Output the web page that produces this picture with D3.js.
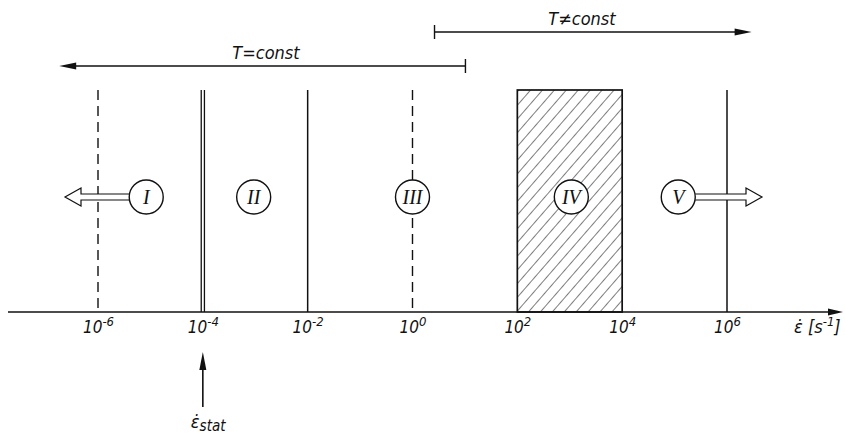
<html lang="en">
<head>
<meta charset="UTF-8">
<title>Strain rate ranges</title>
<script src="https://d3js.org/d3.v7.min.js"></script>
<style>
  body { margin: 0; background: #fff; }
  .lbl { font-family: "DejaVu Sans Condensed", "Liberation Sans Narrow", sans-serif; font-style: italic; fill: #111; }
  .roman { font-family: "Liberation Serif", "DejaVu Serif", serif; font-style: italic; fill: #111; }
</style>
</head>
<body>
<svg width="845" height="435"></svg>
<script>
// log10 of strain rate, s^-1
const tickExponents = [-6, -4, -2, 0, 2, 4, 6];
const dashedBounds = [-6, 0];
const solidBounds = [-2, 6];
const doubleBounds = [-4];
const hatchedBand = [2, 4];
const regionNames = ["I", "II", "III", "IV", "V"];
const regionCenters = [-5.08, -3.03, 0, 3.03, 5.07];
const tConstRange = [1.01, -6.74];     // from bar to arrow tip
const tVarRange = [0.42, 6.47];
const statRate = -4;

const svg = d3.select("svg");
const axisY = 312, lineTop = 90, circleY = 197, r = 17;

const x = d3.scaleLinear().domain([-6, 6]).range([98, 727]);

const defs = svg.append("defs");
defs.append("pattern")
    .attr("id", "hatch")
    .attr("patternUnits", "userSpaceOnUse")
    .attr("width", 9).attr("height", 9)
    .attr("patternTransform", "rotate(41)")
  .append("line")
    .attr("x1", 0).attr("y1", 0).attr("x2", 0).attr("y2", 9)
    .attr("stroke", "#111").attr("stroke-width", 1.1);

// hatched band IV
svg.append("rect")
    .attr("x", x(hatchedBand[0]))
    .attr("y", lineTop)
    .attr("width", x(hatchedBand[1]) - x(hatchedBand[0]))
    .attr("height", axisY - lineTop)
    .attr("fill", "url(#hatch)")
    .attr("stroke", "#111").attr("stroke-width", 1.7);

// boundaries
svg.selectAll(".dash").data(dashedBounds).join("line")
    .attr("x1", d => x(d)).attr("x2", d => x(d))
    .attr("y1", lineTop).attr("y2", axisY)
    .attr("stroke", "#111").attr("stroke-width", 1.4)
    .attr("stroke-dasharray", "10,6");
svg.selectAll(".solid").data(solidBounds).join("line")
    .attr("x1", d => x(d)).attr("x2", d => x(d))
    .attr("y1", lineTop).attr("y2", axisY)
    .attr("stroke", "#111").attr("stroke-width", 1.5);
doubleBounds.forEach(d => {
  [-1.6, 1.6].forEach(o => {
    svg.append("line")
        .attr("x1", x(d) + o).attr("x2", x(d) + o)
        .attr("y1", lineTop).attr("y2", axisY)
        .attr("stroke", "#111").attr("stroke-width", 1.3);
  });
});

// open arrows out of I and V
function openArrow(x0, x1) {
  const dir = Math.sign(x1 - x0), head = 16, hw = 9, sw = 3;
  const xb = x1 - dir * head;
  svg.append("path")
      .attr("d", `M${x0},${circleY - sw} L${xb},${circleY - sw} L${xb},${circleY - hw} L${x1},${circleY} L${xb},${circleY + hw} L${xb},${circleY + sw} L${x0},${circleY + sw}`)
      .attr("fill", "#fff").attr("stroke", "#111").attr("stroke-width", 1.2);
}
openArrow(x(regionCenters[0]) - r, 65);
openArrow(x(regionCenters[4]) + r, 762);

// region circles
const reg = svg.selectAll(".reg").data(regionNames).join("g")
    .attr("transform", (d, i) => `translate(${x(regionCenters[i])},${circleY})`);
reg.append("circle").attr("r", r).attr("fill", "#fff")
    .attr("stroke", "#111").attr("stroke-width", 1.4);
reg.append("text").attr("class", "roman")
    .attr("text-anchor", "middle").attr("dy", "0.35em")
    .attr("font-size", 20).text(d => d);

// x axis
svg.append("line")
    .attr("x1", 8).attr("x2", 830).attr("y1", axisY).attr("y2", axisY)
    .attr("stroke", "#111").attr("stroke-width", 1.5);
svg.append("path")
    .attr("d", `M828,${axisY - 3.5} L843,${axisY} L828,${axisY + 3.5} Z`)
    .attr("fill", "#111");

const ticks = svg.append("g")
    .attr("transform", `translate(0,${axisY})`)
    .call(d3.axisBottom(x).tickValues(tickExponents).tickSize(0).tickFormat(() => ""));
ticks.select(".domain").remove();
ticks.selectAll(".tick").each(function(d) {
  const t = d3.select(this).append("text")
      .attr("class", "lbl").attr("y", 21)
      .attr("text-anchor", "middle").attr("font-size", 17);
  t.append("tspan").text("10");
  t.append("tspan").attr("dy", -7).attr("font-size", 13)
      .text(d < 0 ? "-" + Math.abs(d) : String(d));
});

// axis title
const at = svg.append("text").attr("class", "lbl")
    .attr("x", 794).attr("y", 333).attr("font-size", 18);
at.append("tspan").text("ε̇ [s");
at.append("tspan").attr("dy", -7).attr("font-size", 13).text("-1");
at.append("tspan").attr("dy", 7).text("]");

// temperature range arrows
function rangeArrow(range, y, label, lx) {
  const a = x(range[0]), b = x(range[1]), dir = Math.sign(b - a);
  svg.append("line").attr("x1", a).attr("x2", b - dir * 10)
      .attr("y1", y).attr("y2", y).attr("stroke", "#111").attr("stroke-width", 1.3);
  svg.append("line").attr("x1", a).attr("x2", a)
      .attr("y1", y - 7).attr("y2", y + 7).attr("stroke", "#111").attr("stroke-width", 1.4);
  svg.append("path")
      .attr("d", `M${b - dir * 17},${y - 3.5} L${b},${y} L${b - dir * 17},${y + 3.5} Z`)
      .attr("fill", "#111");
  svg.append("text").attr("class", "lbl")
      .attr("x", lx).attr("y", y - 7).attr("text-anchor", "middle")
      .attr("font-size", 18).text(label);
}
rangeArrow(tConstRange, 66, "T=const", 266);
rangeArrow(tVarRange, 32, "T≠const", 582);

// static strain rate marker
const sx = x(statRate);
svg.append("line").attr("x1", sx).attr("x2", sx)
    .attr("y1", 366).attr("y2", 407).attr("stroke", "#111").attr("stroke-width", 1.6);
svg.append("path")
    .attr("d", `M${sx - 3.5},${370} L${sx},${352} L${sx + 3.5},${370} Z`)
    .attr("fill", "#111");
const st = svg.append("text").attr("class", "lbl")
    .attr("x", sx - 12).attr("y", 428).attr("font-size", 18);
st.append("tspan").text("ε̇");
st.append("tspan").attr("dy", 3).attr("font-size", 15).text("stat");
</script>
</body>
</html>
